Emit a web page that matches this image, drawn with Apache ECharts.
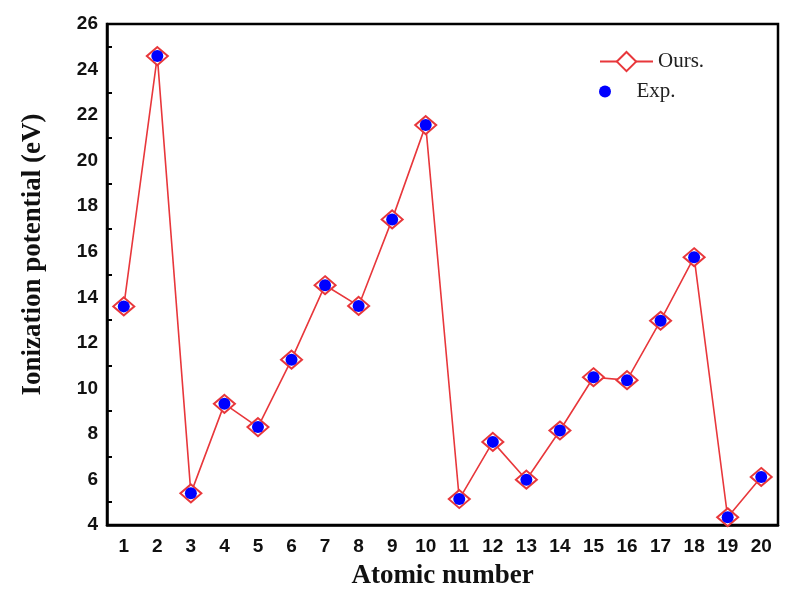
<!DOCTYPE html>
<html>
<head>
<meta charset="utf-8">
<script src="https://cdn.jsdelivr.net/npm/echarts@6/dist/echarts.min.js"></script>
<style>html,body{margin:0;padding:0;background:#fff;}#c{width:799px;height:595px;}</style>
</head>
<body>
<div id="c"></div>
<script>
const categories = ['1','2','3','4','5','6','7','8','9','10','11','12','13','14','15','16','17','18','19','20'];
const oursValues = [13.60, 24.59, 5.39, 9.32, 8.30, 11.26, 14.53, 13.62, 17.42, 21.56, 5.14, 7.65, 5.99, 8.15, 10.49, 10.36, 12.97, 15.76, 4.34, 6.11];
const expValues  = [13.60, 24.59, 5.39, 9.32, 8.30, 11.26, 14.53, 13.62, 17.42, 21.56, 5.14, 7.65, 5.99, 8.15, 10.49, 10.36, 12.97, 15.76, 4.34, 6.11];
const yTicks = { min: 4, max: 26, interval: 2 };

const chart = echarts.init(document.getElementById('c'), null, { renderer: 'canvas' });
const red = '#e8373b';
const blue = '#0000ff';
const labelFont = { fontFamily: 'Liberation Sans, Arial, sans-serif', fontWeight: 'bold', fontSize: 19, color: '#111' };
const nameFont = { fontFamily: 'Liberation Serif, Times New Roman, serif', fontWeight: 'bold', fontSize: 27, color: '#111' };
const legendFont = { fontFamily: 'Liberation Serif, Times New Roman, serif', fontSize: 21, color: '#222' };
chart.setOption({
  backgroundColor: '#fff',
  animation: false,
  grid: { left: 107, right: 21, top: 24, bottom: 70, outerBoundsMode: 'none', containLabel: false,
          show: true, borderColor: '#000', borderWidth: 2.5 },
  legend: [
    { data: ['Ours.'], orient: 'vertical', left: 594, top: 46, itemWidth: 53, itemHeight: 24, itemGap: 8, textStyle: legendFont },
    { data: ['Exp.'], orient: 'vertical', left: 594, top: 76, itemWidth: 53, itemHeight: 12, textStyle: legendFont }
  ],
  xAxis: {
    type: 'category', data: categories, boundaryGap: true,
    name: 'Atomic number', nameLocation: 'middle', nameGap: 38, nameTextStyle: nameFont,
    axisLine: { lineStyle: { color: '#000', width: 2.5 } },
    axisTick: { inside: true, alignWithLabel: true, length: 8, lineStyle: { color: '#000', width: 2 } },
    axisLabel: Object.assign({ margin: 12 }, labelFont),
    splitLine: { show: false }
  },
  yAxis: {
    type: 'value', min: yTicks.min, max: yTicks.max, interval: yTicks.interval,
    name: 'Ionization potential (eV)', nameLocation: 'middle', nameGap: 60,
    nameTextStyle: Object.assign({ padding: [0, 0, 0, 40] }, nameFont),
    axisLine: { show: true, lineStyle: { color: '#000', width: 2.5 } },
    axisTick: { inside: true, length: 8, lineStyle: { color: '#000', width: 2 } },
    minorTick: { show: true, splitNumber: 2, length: 5, lineStyle: { color: '#000', width: 2 } },
    axisLabel: Object.assign({ margin: 9 }, labelFont),
    splitLine: { show: false }
  },
  series: [
    { name: 'Ours.', type: 'line', data: oursValues, symbol: 'emptyDiamond', symbolSize: [21, 18],
      lineStyle: { color: red, width: 1.6 }, itemStyle: { color: red, borderColor: red, borderWidth: 1.6 }, z: 2 },
    { name: 'Exp.', type: 'scatter', data: expValues, symbol: 'circle', symbolSize: 12,
      itemStyle: { color: blue, opacity: 1 }, z: 3 }
  ]
});
</script>
</body>
</html>
